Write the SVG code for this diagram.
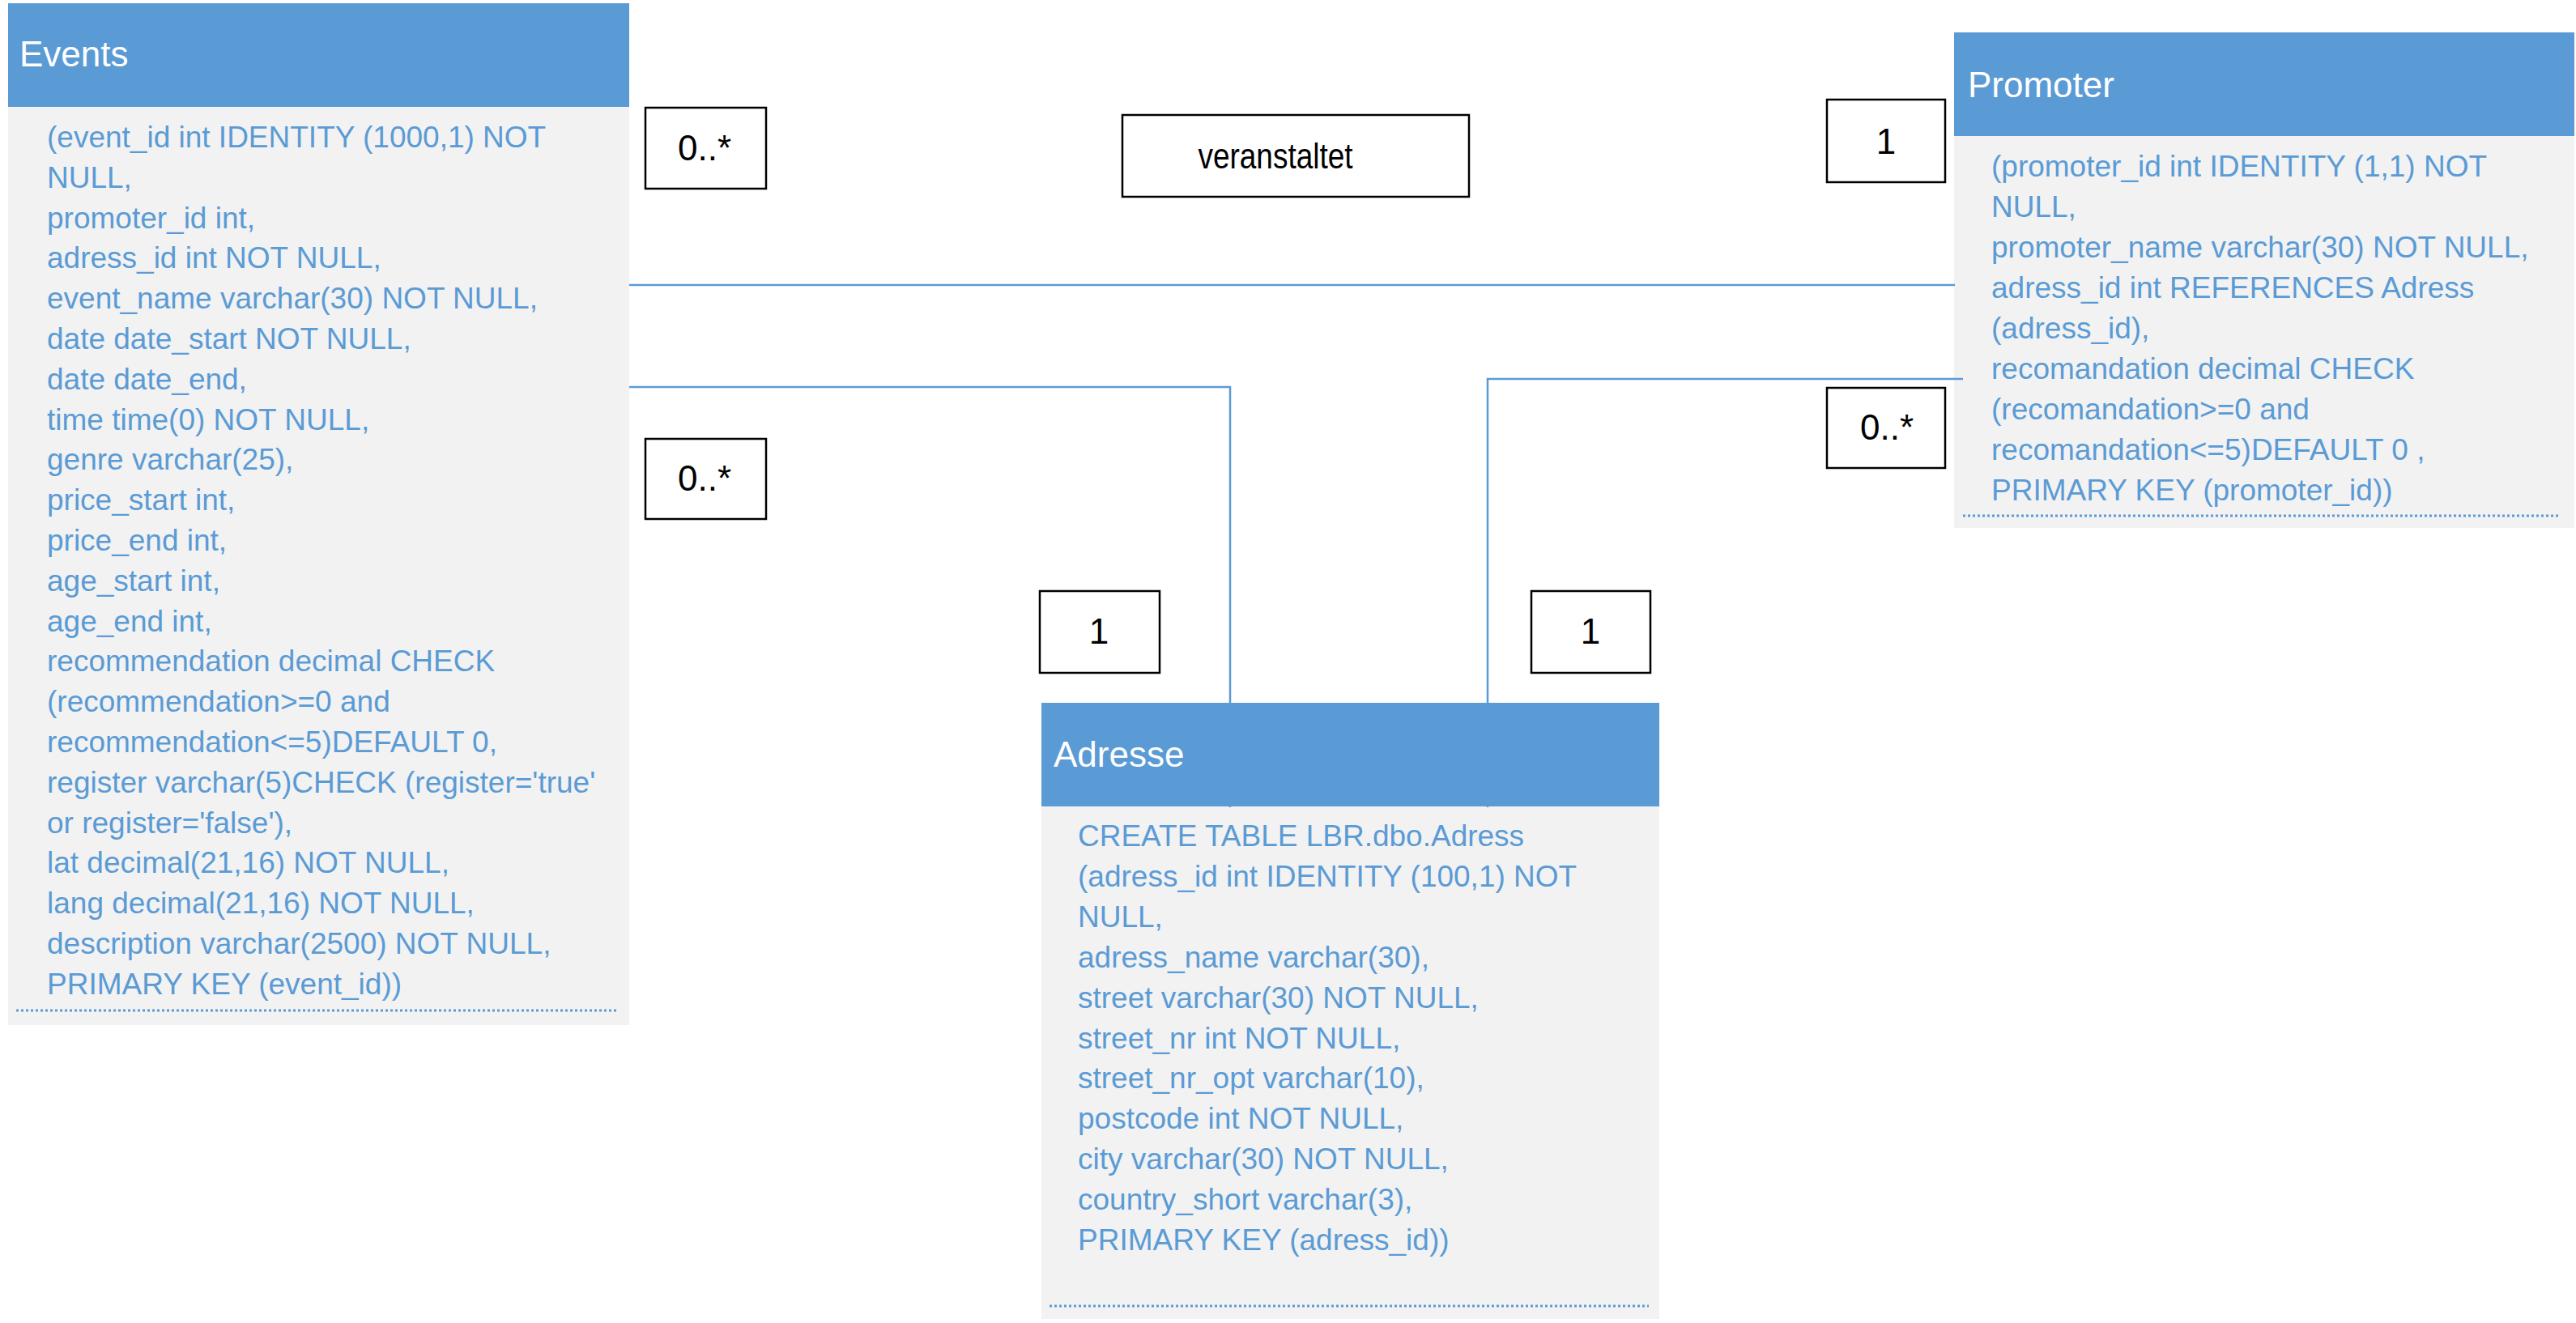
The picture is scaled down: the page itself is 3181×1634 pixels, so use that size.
<svg xmlns="http://www.w3.org/2000/svg" width="3181" height="1634" viewBox="0 0 3181 1634">
  <style>
    .hdr { fill: #5b9bd5; }
    .body { fill: #f2f2f2; }
    .title { font-family: "Liberation Sans", Arial, sans-serif; font-size: 44px; fill: #ffffff; }
    .col { font-family: "Liberation Sans", Arial, sans-serif; font-size: 37px; fill: #5b9bd5; }
    .sep { stroke: #5b9bd5; stroke-width: 3; stroke-dasharray: 3 3; fill: none; }
    .lbl rect { fill: #ffffff; stroke: #000000; stroke-width: 2.5; }
    .lbl text { font-family: "Liberation Sans", Arial, sans-serif; font-size: 44px; fill: #000000; text-anchor: middle; }
    .conn { stroke: #5b9bd5; stroke-width: 2.5; fill: none; }
  </style>

  <!-- Events table -->
  <g id="events">
    <rect class="body" x="10" y="132" width="767" height="1134"/>
    <rect class="hdr" x="10" y="4" width="767" height="128"/>
    <text class="title" x="24" y="82">Events</text>
    <text class="col" x="58" y="182">
      <tspan x="58" dy="0">(event_id int IDENTITY (1000,1) NOT</tspan>
      <tspan x="58" dy="49.8">NULL,</tspan>
      <tspan x="58" dy="49.8">promoter_id int,</tspan>
      <tspan x="58" dy="49.8">adress_id int NOT NULL,</tspan>
      <tspan x="58" dy="49.8">event_name varchar(30) NOT NULL,</tspan>
      <tspan x="58" dy="49.8">date date_start NOT NULL,</tspan>
      <tspan x="58" dy="49.8">date date_end,</tspan>
      <tspan x="58" dy="49.8">time time(0) NOT NULL,</tspan>
      <tspan x="58" dy="49.8">genre varchar(25),</tspan>
      <tspan x="58" dy="49.8">price_start int,</tspan>
      <tspan x="58" dy="49.8">price_end int,</tspan>
      <tspan x="58" dy="49.8">age_start int,</tspan>
      <tspan x="58" dy="49.8">age_end int,</tspan>
      <tspan x="58" dy="49.8">recommendation decimal CHECK</tspan>
      <tspan x="58" dy="49.8">(recommendation&gt;=0 and</tspan>
      <tspan x="58" dy="49.8">recommendation&lt;=5)DEFAULT 0,</tspan>
      <tspan x="58" dy="49.8">register varchar(5)CHECK (register='true'</tspan>
      <tspan x="58" dy="49.8">or register='false'),</tspan>
      <tspan x="58" dy="49.8">lat decimal(21,16) NOT NULL,</tspan>
      <tspan x="58" dy="49.8">lang decimal(21,16) NOT NULL,</tspan>
      <tspan x="58" dy="49.8">description varchar(2500) NOT NULL,</tspan>
      <tspan x="58" dy="49.8">PRIMARY KEY (event_id))</tspan>
    </text>
    <line class="sep" x1="20" y1="1248" x2="763" y2="1248"/>
  </g>

  <!-- Promoter table -->
  <g id="promoter">
    <rect class="body" x="2413" y="167" width="766" height="485"/>
    <rect class="hdr" x="2413" y="40" width="766" height="128"/>
    <text class="title" x="2430" y="120">Promoter</text>
    <text class="col" x="2459" y="218">
      <tspan x="2459" dy="0">(promoter_id int IDENTITY (1,1) NOT</tspan>
      <tspan x="2459" dy="50">NULL,</tspan>
      <tspan x="2459" dy="50">promoter_name varchar(30) NOT NULL,</tspan>
      <tspan x="2459" dy="50">adress_id int REFERENCES Adress</tspan>
      <tspan x="2459" dy="50">(adress_id),</tspan>
      <tspan x="2459" dy="50">recomandation decimal CHECK</tspan>
      <tspan x="2459" dy="50">(recomandation&gt;=0 and</tspan>
      <tspan x="2459" dy="50">recomandation&lt;=5)DEFAULT 0 ,</tspan>
      <tspan x="2459" dy="50">PRIMARY KEY (promoter_id))</tspan>
    </text>
    <line class="sep" x1="2424" y1="637" x2="3162" y2="637"/>
  </g>

  <!-- Adresse table -->
  <g id="adresse">
    <rect class="body" x="1286" y="995" width="763" height="634"/>
    <rect class="hdr" x="1286" y="868" width="763" height="128"/>
    <text class="title" x="1301" y="947">Adresse</text>
    <text class="col" x="1331" y="1045">
      <tspan x="1331" dy="0">CREATE TABLE LBR.dbo.Adress</tspan>
      <tspan x="1331" dy="49.9">(adress_id int IDENTITY (100,1) NOT</tspan>
      <tspan x="1331" dy="49.9">NULL,</tspan>
      <tspan x="1331" dy="49.9">adress_name varchar(30),</tspan>
      <tspan x="1331" dy="49.9">street varchar(30) NOT NULL,</tspan>
      <tspan x="1331" dy="49.9">street_nr int NOT NULL,</tspan>
      <tspan x="1331" dy="49.9">street_nr_opt varchar(10),</tspan>
      <tspan x="1331" dy="49.9">postcode int NOT NULL,</tspan>
      <tspan x="1331" dy="49.9">city varchar(30) NOT NULL,</tspan>
      <tspan x="1331" dy="49.9">country_short varchar(3),</tspan>
      <tspan x="1331" dy="49.9">PRIMARY KEY (adress_id))</tspan>
    </text>
    <line class="sep" x1="1296" y1="1613" x2="2036" y2="1613"/>
  </g>

  <!-- Relationships -->
  <g id="connectors">
    <line class="conn" x1="777" y1="352" x2="2414" y2="352"/>
    <polyline class="conn" points="777,478 1519,478 1519,997"/>
    <polyline class="conn" points="2424,468 1837,468 1837,997"/>
  </g>

  <!-- Multiplicity and role labels -->
  <g id="label-events-promoter" class="lbl">
    <rect x="797" y="133" width="149" height="100"/>
    <text x="870" y="198">0..*</text>
  </g>
  <g id="label-veranstaltet" class="lbl">
    <rect x="1386" y="142" width="428" height="101"/>
    <text x="1575" y="208" textLength="191" lengthAdjust="spacingAndGlyphs">veranstaltet</text>
  </g>
  <g id="label-promoter-events" class="lbl">
    <rect x="2256" y="123" width="146" height="102"/>
    <text x="2329" y="190">1</text>
  </g>
  <g id="label-promoter-adresse" class="lbl">
    <rect x="2256" y="479" width="146" height="99"/>
    <text x="2330" y="543">0..*</text>
  </g>
  <g id="label-events-adresse" class="lbl">
    <rect x="797" y="542" width="149" height="99"/>
    <text x="870" y="606">0..*</text>
  </g>
  <g id="label-adresse-events" class="lbl">
    <rect x="1284" y="730" width="148" height="101"/>
    <text x="1357" y="795">1</text>
  </g>
  <g id="label-adresse-promoter" class="lbl">
    <rect x="1891" y="730" width="147" height="101"/>
    <text x="1964" y="795">1</text>
  </g>
</svg>
